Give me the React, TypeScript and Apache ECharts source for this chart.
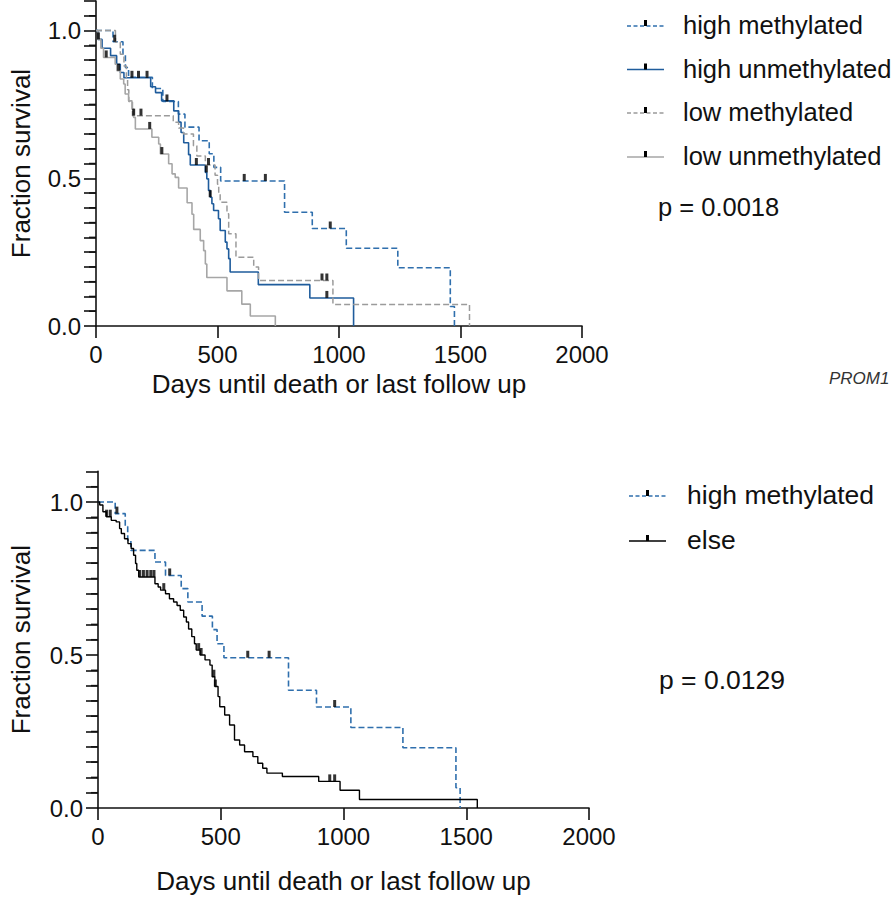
import React, { useEffect, useRef } from "react";
import * as echarts from "echarts";

// ---------- data ----------
const xTickValues = [0, 500, 1000, 1500, 2000];
const yLabelValues = [0, 0.5, 1.0];
const yMinorValues = [0.05, 0.1, 0.15, 0.2, 0.25, 0.3, 0.35, 0.4, 0.45, 0.55, 0.6, 0.65, 0.7, 0.75, 0.8, 0.85, 0.9, 0.95, 1.05];

const legendTop = ["high methylated", "high unmethylated", "low methylated", "low unmethylated"];
const legendBottom = ["high methylated", "else"];
const pTop = "p = 0.0018";
const pBottom = "p = 0.0129";
const geneLabel = "PROM1";
const xTitle = "Days until death or last follow up";
const yTitle = "Fraction survival";

// high methylated (shared by both panels)
const highMethT = [0, 70, 111, 121, 134, 232, 275, 339, 366, 424, 466, 485, 513, 776, 890, 1030, 1242, 1458, 1475];
const highMethS = [1, 0.962, 0.92, 0.875, 0.842, 0.804, 0.76, 0.717, 0.673, 0.627, 0.583, 0.537, 0.491, 0.385, 0.33, 0.263, 0.197, 0.066, 0];
const highMethCensor = [77, 292, 610, 697, 964];

// high unmethylated
const highUnT = [0, 8, 25, 60, 85, 100, 115, 225, 245, 270, 320, 340, 350, 361, 381, 388, 450, 456, 463, 470, 477, 484, 504, 511, 532, 539, 546, 552, 668, 880, 1060];
const highUnS = [1, 0.97, 0.94, 0.915, 0.886, 0.858, 0.84, 0.81, 0.79, 0.762, 0.728, 0.69, 0.655, 0.62, 0.58, 0.545, 0.52, 0.498, 0.459, 0.436, 0.414, 0.391, 0.363, 0.323, 0.284, 0.261, 0.228, 0.183, 0.14, 0.095, 0];
const highUnCensor = [10, 148, 175, 210, 413, 454, 470, 950];

// low methylated
const lowMethT = [0, 80, 100, 115, 125, 130, 135, 150, 318, 340, 360, 401, 415, 450, 490, 500, 505, 511, 539, 546, 576, 649, 669, 975, 1537];
const lowMethS = [1, 0.96, 0.92, 0.88, 0.84, 0.8, 0.76, 0.712, 0.69, 0.67, 0.65, 0.61, 0.575, 0.545, 0.51, 0.48, 0.45, 0.419, 0.38, 0.312, 0.233, 0.2, 0.154, 0.073, 0];
const lowMethCensor = [155, 185, 463, 930, 950];

// low unmethylated
const lowUnT = [0, 8, 20, 31, 79, 86, 100, 114, 120, 134, 148, 155, 162, 230, 258, 265, 299, 313, 326, 340, 375, 395, 402, 429, 443, 450, 456, 539, 600, 635, 738];
const lowUnS = [1, 0.97, 0.94, 0.909, 0.886, 0.864, 0.836, 0.819, 0.785, 0.762, 0.734, 0.706, 0.667, 0.639, 0.616, 0.582, 0.549, 0.515, 0.503, 0.467, 0.417, 0.378, 0.327, 0.289, 0.255, 0.21, 0.164, 0.119, 0.074, 0.034, 0];
const lowUnCensor = [42, 93, 221, 271];

// else (bottom panel)
const elseT = [0, 7, 20, 34, 54, 74, 88, 95, 108, 122, 135, 145, 153, 158, 166, 232, 245, 255, 275, 291, 308, 322, 335, 349, 360, 369, 382, 393, 400, 416, 436, 456, 465, 476, 489, 496, 516, 536, 556, 577, 597, 631, 651, 671, 688, 751, 899, 986, 1065, 1545];
const elseS = [1, 0.99, 0.968, 0.952, 0.94, 0.935, 0.913, 0.897, 0.88, 0.864, 0.848, 0.826, 0.799, 0.777, 0.755, 0.733, 0.722, 0.712, 0.7, 0.684, 0.673, 0.662, 0.646, 0.624, 0.608, 0.585, 0.56, 0.537, 0.516, 0.5, 0.484, 0.467, 0.429, 0.397, 0.364, 0.331, 0.304, 0.271, 0.222, 0.206, 0.184, 0.168, 0.146, 0.13, 0.114, 0.103, 0.087, 0.058, 0.028, 0];
const elseCensor = [35, 50, 170, 185, 200, 215, 228, 268, 410, 420, 472, 478, 944, 964];

// ---------- styles ----------
const FONT = "'Liberation Sans', Arial, Helvetica, sans-serif";
const TXT = "#111";
const C_HM = "#2f6fad";
const C_HU = "#1f5c9c";
const C_LM = "#9b9b9b";
const C_LU = "#a6a6a6";
const C_ELSE = "#000000";

function valueAt(T: number[], S: number[], t: number) {
  let v = S[0];
  for (let i = 0; i < T.length; i++) if (T[i] <= t) v = S[i];
  return v;
}

function km(name: string, T: number[], S: number[], color: string, dashed: boolean, width: number, g: number) {
  return {
    name,
    type: "line",
    xAxisIndex: g,
    yAxisIndex: g,
    step: "end",
    symbol: "none",
    data: T.map((t, i) => [t, S[i]]),
    lineStyle: { color, width, type: dashed ? [6, 3] : "solid" },
    z: 3,
  };
}

function censor(name: string, T: number[], S: number[], C: number[], g: number) {
  return {
    name: name + " censored",
    type: "scatter",
    xAxisIndex: g,
    yAxisIndex: g,
    symbol: "rect",
    symbolSize: [3, 7],
    symbolOffset: [0, -3.5],
    itemStyle: { color: "#000" },
    data: C.map((t) => [t, valueAt(T, S, t)]),
    z: 4,
  };
}

// minor y ticks, positioned through the axis scale
function minorTicks(g: number) {
  return {
    name: "minor ticks " + g,
    type: "custom",
    xAxisIndex: g,
    yAxisIndex: g,
    silent: true,
    clip: false,
    data: yMinorValues.map((v) => [0, v]),
    renderItem: (params: any, api: any) => {
      const p = api.coord([api.value(0), api.value(1)]);
      return {
        type: "line",
        shape: { x1: p[0] - 7, y1: p[1], x2: p[0], y2: p[1] },
        style: { stroke: TXT, lineWidth: 1.5 },
      };
    },
    z: 5,
  };
}

function xAxis(g: number, gap: number) {
  return {
    gridIndex: g,
    type: "value",
    min: 0,
    max: 2000,
    interval: 500,
    splitLine: { show: false },
    axisLine: { show: true, lineStyle: { color: TXT, width: 1.6 } },
    axisTick: { show: true, length: 12, lineStyle: { color: TXT, width: 1.6 } },
    axisLabel: {
      fontSize: 24,
      color: TXT,
      fontFamily: FONT,
      margin: 16,
      formatter: (v: number) => (xTickValues.indexOf(v) >= 0 ? String(v) : ""),
    },
    name: xTitle,
    nameLocation: "middle",
    nameGap: gap,
    nameTextStyle: { fontSize: 26, color: TXT, fontFamily: FONT },
  };
}

function yLabel(v: number) {
  for (const m of yLabelValues) if (Math.abs(v - m) < 1e-6) return m.toFixed(1);
  return "";
}

function yAxis(g: number, gap: number) {
  return {
    gridIndex: g,
    type: "value",
    min: 0,
    max: 1.1,
    interval: 0.05,
    splitLine: { show: false },
    axisLine: { show: true, onZero: false, lineStyle: { color: TXT, width: 1.6 } },
    axisTick: { show: true, length: 12, lineStyle: { color: TXT, width: 1.6 } },
    axisLabel: {
      fontSize: 24,
      color: TXT,
      fontFamily: FONT,
      margin: 15,
      formatter: yLabel,
    },
    name: yTitle,
    nameLocation: "middle",
    nameGap: gap,
    nameTextStyle: { fontSize: 26, color: TXT, fontFamily: FONT },
  };
}

function legendItem(x0: number, y: number, color: string, dashed: boolean, label: string, textX: number, fs: number) {
  return [
    {
      type: "line",
      shape: { x1: x0, y1: y, x2: x0 + 37, y2: y },
      style: { stroke: color, lineWidth: 1.5, lineDash: dashed ? [4, 2.5] : null },
    },
    {
      type: "rect",
      shape: { x: x0 + 17, y: y - 6, width: 3, height: 6 },
      style: { fill: "#000" },
    },
    {
      type: "text",
      x: textX,
      y: y - 1,
      style: { text: label, fontSize: fs, fill: TXT, fontFamily: FONT, verticalAlign: "middle", align: "left" },
    },
  ];
}

export default function App() {
  const ref = useRef<HTMLDivElement>(null);

  useEffect(() => {
    if (!ref.current) return;
    const chart = echarts.init(ref.current, null, { renderer: "svg" });

    const topColors = [C_HM, C_HU, C_LM, C_LU];
    const topDashed = [true, false, true, false];
    const topRows = [26, 69.5, 113, 157];
    const botColors = [C_HM, C_ELSE];
    const botDashed = [true, false];
    const botRows = [496, 541];

    const graphics: any[] = [];
    legendTop.forEach((lab, i) => graphics.push(...legendItem(627, topRows[i], topColors[i], topDashed[i], lab, 683, 25.5)));
    legendBottom.forEach((lab, i) => graphics.push(...legendItem(629, botRows[i], botColors[i], botDashed[i], lab, 687, 26.5)));
    graphics.push({
      type: "text",
      x: 658,
      y: 207,
      style: { text: pTop, fontSize: 25.5, fill: TXT, fontFamily: FONT, verticalAlign: "middle" },
    });
    graphics.push({
      type: "text",
      x: 659,
      y: 680,
      style: { text: pBottom, fontSize: 26.5, fill: TXT, fontFamily: FONT, verticalAlign: "middle" },
    });
    graphics.push({
      type: "text",
      x: 829,
      y: 378,
      style: { text: geneLabel, fontSize: 17, fontStyle: "italic", fill: "#333", fontFamily: FONT, verticalAlign: "middle" },
    });

    chart.setOption({
      animation: false,
      backgroundColor: "#ffffff",
      grid: [
        { left: 96, top: 1, width: 486, height: 325 },
        { left: 92, top: 471.4, width: 497, height: 336.6 },
      ],
      xAxis: [xAxis(0, 45), xAxis(1, 60)],
      yAxis: [yAxis(0, 62), yAxis(1, 64)],
      series: [
        km(legendTop[0], highMethT, highMethS, C_HM, true, 1.6, 0),
        km(legendTop[1], highUnT, highUnS, C_HU, false, 1.6, 0),
        km(legendTop[2], lowMethT, lowMethS, C_LM, true, 1.5, 0),
        km(legendTop[3], lowUnT, lowUnS, C_LU, false, 1.6, 0),
        censor(legendTop[0], highMethT, highMethS, highMethCensor, 0),
        censor(legendTop[1], highUnT, highUnS, highUnCensor, 0),
        censor(legendTop[2], lowMethT, lowMethS, lowMethCensor, 0),
        censor(legendTop[3], lowUnT, lowUnS, lowUnCensor, 0),
        km(legendBottom[0], highMethT, highMethS, C_HM, true, 1.6, 1),
        km(legendBottom[1], elseT, elseS, C_ELSE, false, 1.4, 1),
        censor(legendBottom[0], highMethT, highMethS, highMethCensor, 1),
        censor(legendBottom[1], elseT, elseS, elseCensor, 1),
        minorTicks(0),
        minorTicks(1),
      ],
      graphic: graphics,
    });

    return () => chart.dispose();
  }, []);

  return (
    <div
      ref={ref}
      style={{ position: "fixed", left: 0, top: 0, width: 896, height: 900, background: "#fff" }}
    />
  );
}
